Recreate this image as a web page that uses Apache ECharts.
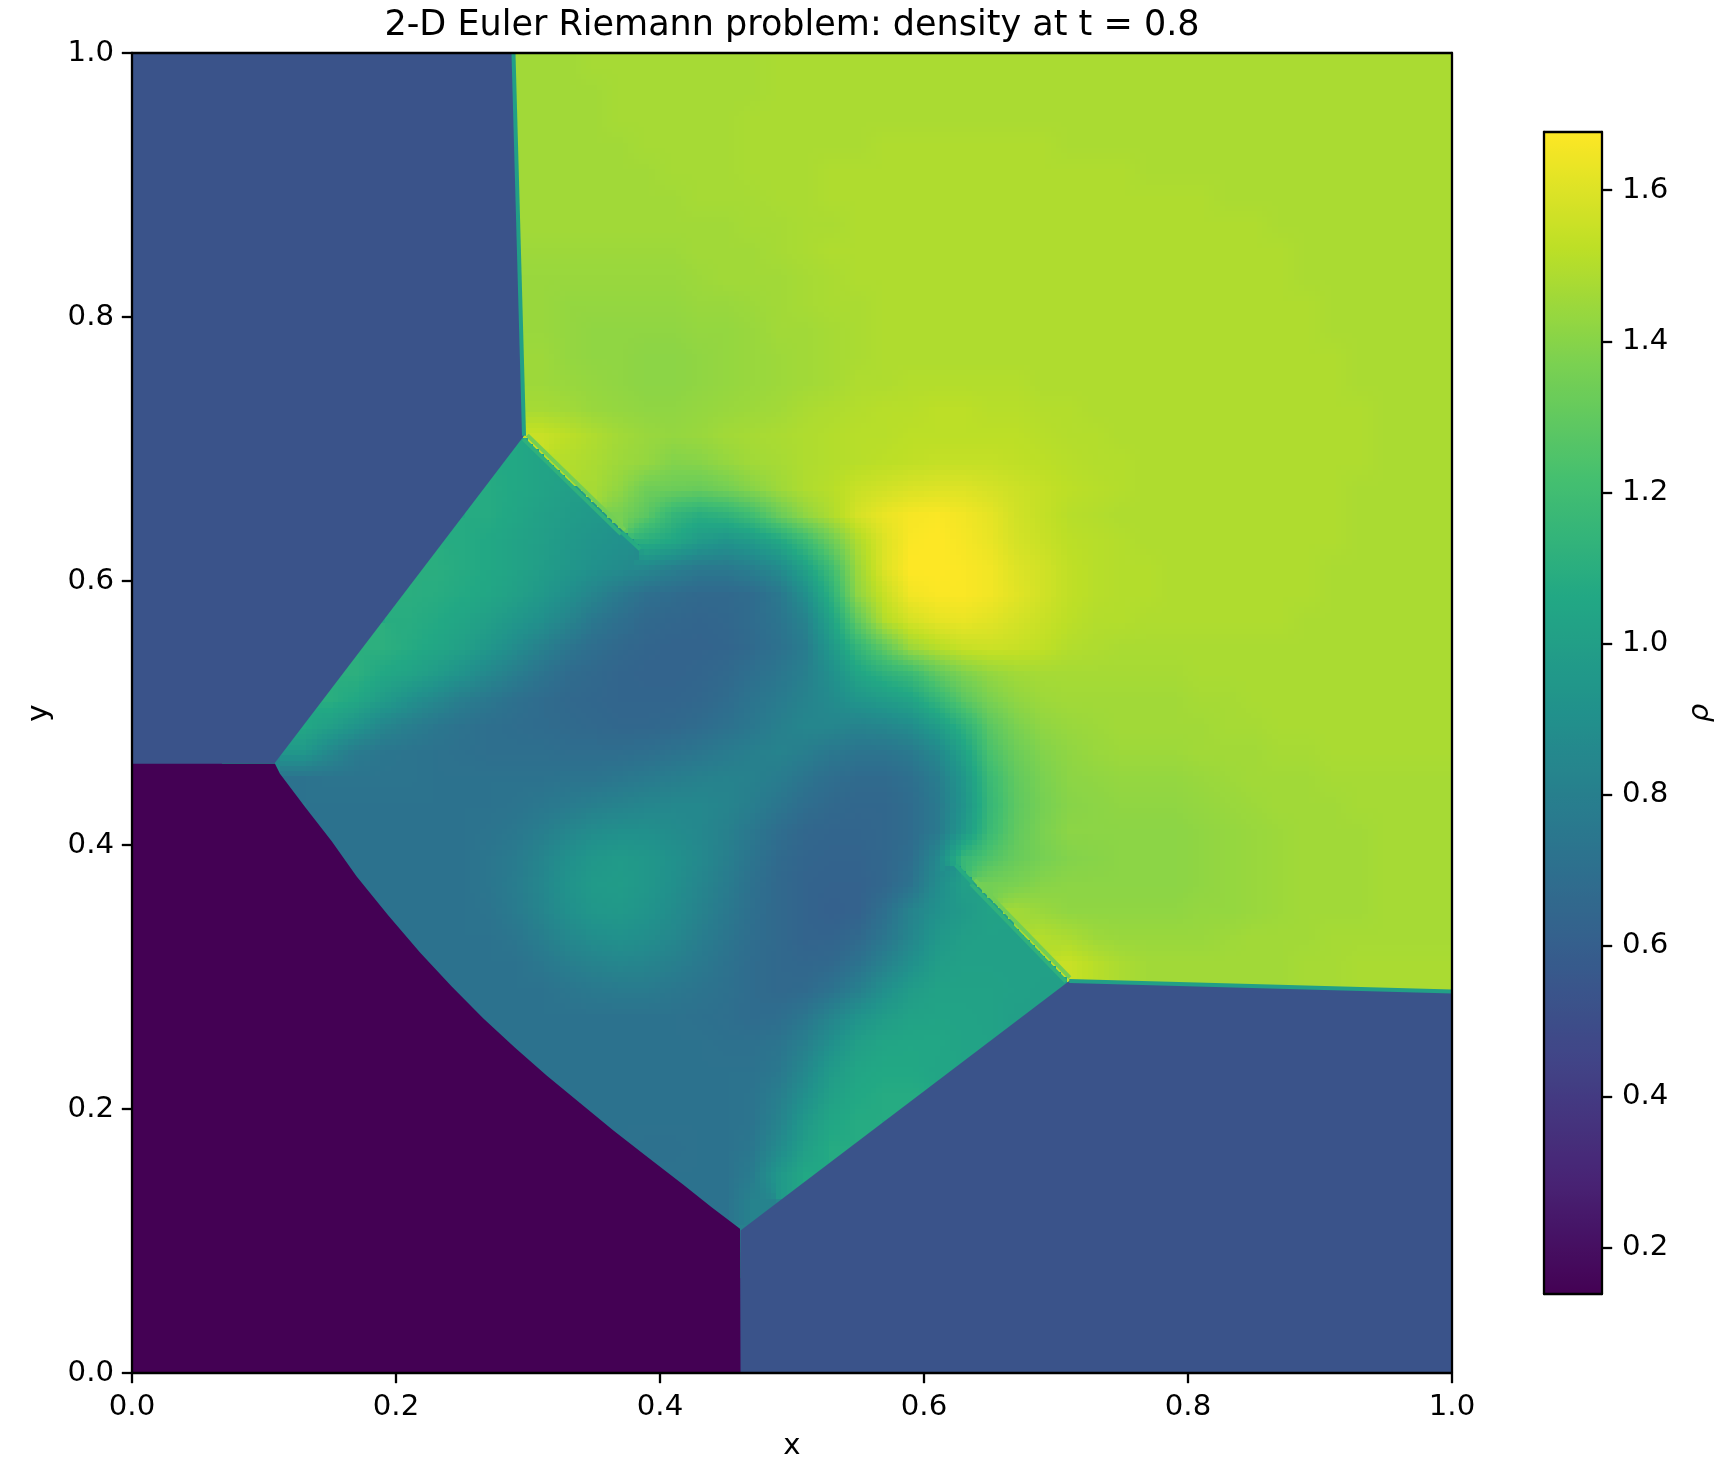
<!DOCTYPE html>
<html>
<head>
<meta charset="utf-8">
<script src="https://cdn.jsdelivr.net/npm/echarts@6/dist/echarts.min.js"></script>
<style>html,body{margin:0;padding:0;background:#fff}#c{width:1721px;height:1470px}</style>
</head>
<body>
<div id="c"></div>
<script>
const titleText = '2-D Euler Riemann problem: density at t = 0.8';
const axisTicks = [0, 0.2, 0.4, 0.6, 0.8, 1.0];
const colorbarTicks = [0.2, 0.4, 0.6, 0.8, 1.0, 1.2, 1.4, 1.6];
const rhoMin = 0.139, rhoMax = 1.677;
const viridis = ['#440154','#482475','#414487','#355f8d','#2a788e','#21918c','#22a884','#44bf70','#7ad151','#bddf26','#fde725'];
const cellCount = 50;
// Uniform states with sharp shock fronts: [x, y] outlines and their density.
const upperLeftState = [[0,1],[0.289,1],[0.297,0.71],[0.108,0.462],[0,0.462]];
const lowerRightState = [[1,0],[1,0.289],[0.71,0.297],[0.461,0.108],[0.461,0]];
const lowerLeftState = [[0,0],[0.461,0],[0.4606,0.1092],[0.4391,0.1256],[0.4177,0.1426],[0.3912,0.163],[0.3647,0.1837],[0.3394,0.2045],[0.3141,0.2254],[0.2902,0.2464],[0.2662,0.2686],[0.2422,0.2928],[0.2182,0.3186],[0.1942,0.3466],[0.1702,0.3762],[0.1513,0.4029],[0.1311,0.4287],[0.1121,0.4539],[0.1083,0.4615],[0,0.4615]];
const stateOutlines = [upperLeftState, lowerRightState, lowerLeftState];
const stateRho = [0.53, 0.53, 0.14];
// Shock fronts between the teal wedges and the green region.
const frontA = [[0.29,0.717],[0.386,0.623]];
const frontB = [[0.623,0.386],[0.717,0.29]];
// Thin contact lines drawn over the sharp edges, and the density their colour stands for.
const contactLines = [
  [[0.289,1],[0.297,0.71]], [[0.71,0.297],[1,0.289]],
  [[0.2965,0.7075],[0.3705,0.6355]], [[0.2995,0.7105],[0.3735,0.6385]],
  [[0.6355,0.3705],[0.7075,0.2965]], [[0.6385,0.3735],[0.7105,0.2995]],
  [[0.371,0.637],[0.385,0.624]], [[0.624,0.385],[0.637,0.371]]
];
const contactRho = [1.0, 1.0, 1.12, 1.35, 1.12, 1.35, 1.08, 1.08];
// Density x 100 in cells; first row is y = 0.99, last is y = 0.01; columns x = 0.01 ... 0.99
const rhoRows = [
[53,53,53,53,53, 53,53,53,53,53, 53,53,53,53,146, 146,146,147,147,147, 147,147,147,147,148, 148,148,148,148,148, 148,148,148,148,148, 148,148,148,148,148, 148,148,148,148,148, 148,148,148,148,148],
[53,53,53,53,53, 53,53,53,53,53, 53,53,53,53,146, 146,146,146,147,147, 147,147,147,147,148, 148,148,148,148,148, 148,148,148,148,148, 148,148,148,148,148, 148,148,148,148,148, 148,148,148,148,148],
[53,53,53,53,53, 53,53,53,53,53, 53,53,53,53,92, 146,146,146,147,147, 147,147,147,148,148, 148,148,148,148,148, 148,148,148,148,148, 148,148,148,148,148, 148,148,148,148,148, 148,148,148,148,148],
[53,53,53,53,53, 53,53,53,53,53, 53,53,53,53,88, 146,146,146,146,147, 147,147,147,148,148, 148,148,148,149,149, 149,149,149,149,149, 148,148,148,148,148, 148,148,148,148,148, 148,148,148,148,148],
[53,53,53,53,53, 53,53,53,53,53, 53,53,53,53,85, 146,146,146,146,146, 147,147,147,148,148, 148,149,149,149,149, 149,149,149,149,149, 149,149,149,148,148, 148,148,148,148,148, 148,148,148,148,148],
[53,53,53,53,53, 53,53,53,53,53, 53,53,53,53,82, 146,146,146,146,146, 146,147,147,147,148, 148,149,149,149,149, 149,149,149,149,149, 149,149,149,149,149, 149,148,148,148,148, 148,148,148,148,148],
[53,53,53,53,53, 53,53,53,53,53, 53,53,53,53,80, 146,146,146,146,146, 146,146,146,147,147, 148,148,149,149,149, 149,149,149,149,149, 149,149,149,149,149, 149,149,149,148,148, 148,148,148,148,148],
[53,53,53,53,53, 53,53,53,53,53, 53,53,53,53,77, 145,145,145,145,145, 145,146,146,146,147, 148,149,149,149,149, 149,149,149,149,149, 149,149,149,149,149, 149,149,149,149,148, 148,148,148,148,148],
[53,53,53,53,53, 53,53,53,53,53, 53,53,53,53,74, 144,144,144,144,144, 144,145,146,146,146, 147,148,149,149,149, 149,149,149,149,149, 149,149,149,149,149, 149,149,149,149,148, 148,148,148,148,148],
[53,53,53,53,53, 53,53,53,53,53, 53,53,53,53,72, 144,143,143,143,143, 143,144,144,145,146, 147,148,148,149,149, 149,149,149,149,149, 149,149,149,149,149, 149,149,149,149,149, 148,148,148,148,148],
[53,53,53,53,53, 53,53,53,53,53, 53,53,53,53,70, 144,143,142,142,142, 142,143,143,144,146, 146,147,148,149,149, 149,149,149,149,149, 149,149,149,149,149, 149,149,149,149,149, 148,148,148,148,148],
[53,53,53,53,53, 53,53,53,53,53, 53,53,53,53,68, 145,143,142,142,141, 141,142,143,144,145, 146,147,148,149,149, 149,149,149,149,149, 149,149,149,149,149, 149,149,149,149,149, 149,148,148,148,148],
[53,53,53,53,53, 53,53,53,53,53, 53,53,53,53,67, 145,144,143,142,141, 141,142,143,144,145, 146,147,149,149,150, 150,150,150,150,149, 149,149,149,149,149, 149,149,149,149,149, 149,148,148,148,148],
[53,53,53,53,53, 53,53,53,53,53, 53,53,53,53,66, 147,146,144,143,142, 142,143,144,145,146, 148,149,150,151,151, 152,152,151,151,150, 150,149,149,149,149, 149,149,149,149,149, 149,149,148,148,148],
[53,53,53,53,53, 53,53,53,53,53, 53,53,53,53,75, 155,152,149,146,144, 143,144,146,147,148, 149,150,151,151,152, 152,152,152,152,151, 150,150,149,149,149, 149,149,149,149,149, 149,149,148,148,148],
[53,53,53,53,53, 53,53,53,53,53, 53,53,53,56,106, 103,150,148,145,143, 139,140,143,146,147, 149,150,151,152,153, 154,154,154,153,152, 151,150,150,149,149, 149,149,149,149,149, 149,149,148,148,148],
[53,53,53,53,53, 53,53,53,53,53, 53,53,53,108,106, 103,100,147,142,134, 133,132,135,140,145, 149,151,155,157,159, 160,160,158,156,154, 152,151,150,149,149, 149,149,149,149,149, 149,148,148,148,148],
[53,53,53,53,53, 53,53,53,53,53, 53,53,80,108,105, 101,98,96,136,128, 115,110,113,120,132, 142,149,158,163,166, 167,165,162,157,154, 151,150,149,149,149, 149,149,149,149,149, 149,148,148,148,148],
[53,53,53,53,53, 53,53,53,53,53, 53,66,108,106,103, 100,96,93,91,110, 105,97,93,97,105, 118,133,149,160,167, 168,166,163,158,155, 152,151,150,149,149, 149,149,149,149,149, 149,148,148,148,148],
[53,53,53,53,53, 53,53,53,53,53, 53,110,108,106,103, 99,95,91,88,85, 80,76,76,80,87, 102,120,145,160,168, 168,167,165,160,157, 153,151,150,150,149, 149,149,149,149,149, 148,148,148,148,148],
[53,53,53,53,53, 53,53,53,53,53, 110,109,107,105,101, 96,90,83,76,70, 68,66,66,68,75, 90,112,142,155,165, 167,167,165,161,157, 153,151,150,150,149, 149,149,149,149,149, 148,148,148,148,148],
[53,53,53,53,53, 53,53,53,53,110, 109,107,104,100,95, 90,83,75,70,66, 65,64,65,68,73, 82,103,130,150,158, 162,163,161,158,155, 152,150,150,149,149, 149,149,149,149,148, 148,148,148,148,148],
[53,53,53,53,53, 53,53,53,78,111, 108,105,101,95,88, 81,74,69,66,64, 63,63,64,67,71, 78,96,115,130,145, 151,155,156,155,153, 150,149,148,148,148, 148,148,148,148,148, 148,148,148,148,148],
[53,53,53,53,53, 53,53,53,111,106, 103,98,92,85,79, 73,68,66,64,63, 63,64,66,70,74, 80,90,104,112,118, 130,138,143,146,147, 147,147,147,147,147, 148,148,148,148,148, 148,148,148,148,148],
[53,53,53,53,53, 53,53,110,106,98, 91,85,79,75,71, 68,66,65,64,64, 64,65,68,73,77, 82,87,94,98,103, 115,128,137,142,145, 146,146,146,146,146, 147,147,148,148,148, 148,148,148,148,148],
[53,53,53,53,53, 53,106,100,93,84, 79,75,72,70,69, 68,67,66,65,65, 66,68,71,75,80, 84,84,82,84,88, 98,112,128,137,142, 144,145,146,146,146, 146,147,147,148,148, 148,148,148,148,148],
[53,53,53,53,53, 70,95,85,77,74, 73,72,71,70,70, 70,69,69,69,70, 72,74,77,80,82, 79,75,73,73,76, 85,102,123,133,139, 142,144,145,145,145, 146,146,146,147,147, 148,148,148,148,148],
[14,14,14,14,14, 30,72,73,73,73, 73,72,72,72,72, 72,73,73,75,77, 79,81,82,81,78, 73,69,67,67,70, 78,95,118,130,137, 141,142,143,143,143, 144,145,146,146,146, 147,147,147,147,147],
[14,14,14,14,14, 14,72,72,72,72, 72,72,72,72,73, 75,77,80,82,84, 85,85,83,79,74, 69,66,65,65,68, 76,93,116,129,136, 140,141,142,142,142, 143,144,145,146,146, 146,147,147,147,147],
[14,14,14,14,14, 14,14,72,72,72, 72,72,72,73,75, 79,84,88,90,90, 88,85,81,75,69, 65,64,64,65,68, 76,96,118,130,137, 141,141,141,141,141, 142,143,144,145,146, 146,146,147,147,147],
[14,14,14,14,14, 14,14,72,72,72, 72,72,72,74,77, 83,90,95,97,95, 91,86,80,73,67, 64,63,63,65,69, 85,116,125,132,136, 139,140,141,141,141, 142,143,144,145,146, 146,146,147,147,147],
[14,14,14,14,14, 14,14,14,72,72, 72,72,72,74,78, 84,92,97,98,95, 90,84,78,71,66, 63,62,62,65,72, 88,100,135,137,140, 141,141,141,141,141, 142,143,144,145,146, 146,146,147,147,147],
[14,14,14,14,14, 14,14,14,14,72, 72,72,72,73,77, 83,90,95,96,93, 88,82,76,70,66, 63,61,62,70,82, 91,97,102,146,144, 142,142,142,142,142, 143,143,144,145,146, 146,146,147,147,147],
[14,14,14,14,14, 14,14,14,14,14, 72,72,72,72,74, 79,85,89,91,89, 85,79,74,69,66, 63,63,66,74,84, 95,100,101,101,150, 148,145,144,144,144, 144,145,146,146,146, 147,147,147,147,147],
[14,14,14,14,14, 14,14,14,14,14, 14,72,72,72,72, 75,79,82,84,83, 80,76,72,68,66, 65,66,72,81,90, 99,101,101,101,101, 155,151,148,146,146, 146,146,146,146,147, 147,148,148,148,148],
[14,14,14,14,14, 14,14,14,14,14, 14,14,72,72,72, 72,74,76,77,77, 75,73,71,68,66, 67,72,80,90,98, 102,102,102,101,100, 150,148,147,147,147, 147,147,147,147,147, 147,147,147,148,148],
[14,14,14,14,14, 14,14,14,14,14, 14,14,14,72,72, 72,72,72,72,72, 72,71,70,68,69, 74,83,92,98,102, 103,103,102,100,53, 53,53,53,53,53, 53,53,53,53,53, 53,53,53,53,53],
[14,14,14,14,14, 14,14,14,14,14, 14,14,14,20,72, 72,72,72,72,72, 72,72,71,71,73, 80,90,100,104,105, 105,103,85,53,53, 53,53,53,53,53, 53,53,53,53,53, 53,53,53,53,53],
[14,14,14,14,14, 14,14,14,14,14, 14,14,14,14,25, 72,72,72,72,72, 72,72,72,72,75, 85,97,104,106,106, 104,60,53,53,53, 53,53,53,53,53, 53,53,53,53,53, 53,53,53,53,53],
[14,14,14,14,14, 14,14,14,14,14, 14,14,14,14,14, 14,72,72,72,72, 72,72,72,73,79, 90,101,106,108,108, 53,53,53,53,53, 53,53,53,53,53, 53,53,53,53,53, 53,53,53,53,53],
[14,14,14,14,14, 14,14,14,14,14, 14,14,14,14,14, 14,14,72,72,72, 72,72,72,73,82, 96,105,108,110,53, 53,53,53,53,53, 53,53,53,53,53, 53,53,53,53,53, 53,53,53,53,53],
[14,14,14,14,14, 14,14,14,14,14, 14,14,14,14,14, 14,14,14,72,71, 71,72,72,75,87, 100,108,70,53,53, 53,53,53,53,53, 53,53,53,53,53, 53,53,53,53,53, 53,53,53,53,53],
[14,14,14,14,14, 14,14,14,14,14, 14,14,14,14,14, 14,14,14,14,16, 72,72,72,78,95, 106,55,53,53,53, 53,53,53,53,53, 53,53,53,53,53, 53,53,53,53,53, 53,53,53,53,53],
[14,14,14,14,14, 14,14,14,14,14, 14,14,14,14,14, 14,14,14,14,14, 14,72,72,82,90, 53,53,53,53,53, 53,53,53,53,53, 53,53,53,53,53, 53,53,53,53,53, 53,53,53,53,53],
[14,14,14,14,14, 14,14,14,14,14, 14,14,14,14,14, 14,14,14,14,14, 14,14,14,55,53, 53,53,53,53,53, 53,53,53,53,53, 53,53,53,53,53, 53,53,53,53,53, 53,53,53,53,53],
[14,14,14,14,14, 14,14,14,14,14, 14,14,14,14,14, 14,14,14,14,14, 14,14,14,50,53, 53,53,53,53,53, 53,53,53,53,53, 53,53,53,53,53, 53,53,53,53,53, 53,53,53,53,53],
[14,14,14,14,14, 14,14,14,14,14, 14,14,14,14,14, 14,14,14,14,14, 14,14,14,50,53, 53,53,53,53,53, 53,53,53,53,53, 53,53,53,53,53, 53,53,53,53,53, 53,53,53,53,53],
[14,14,14,14,14, 14,14,14,14,14, 14,14,14,14,14, 14,14,14,14,14, 14,14,14,50,53, 53,53,53,53,53, 53,53,53,53,53, 53,53,53,53,53, 53,53,53,53,53, 53,53,53,53,53],
[14,14,14,14,14, 14,14,14,14,14, 14,14,14,14,14, 14,14,14,14,14, 14,14,14,50,53, 53,53,53,53,53, 53,53,53,53,53, 53,53,53,53,53, 53,53,53,53,53, 53,53,53,53,53],
[14,14,14,14,14, 14,14,14,14,14, 14,14,14,14,14, 14,14,14,14,14, 14,14,14,50,53, 53,53,53,53,53, 53,53,53,53,53, 53,53,53,53,53, 53,53,53,53,53, 53,53,53,53,53]
];

const step = 1 / cellCount;
const SUB = 5; // each cell is painted with smooth shading, as the reference image is

function insidePoly(p, poly) {
  let hit = false;
  for (let i = 0, j = poly.length - 1; i < poly.length; j = i++) {
    const a = poly[i], b = poly[j];
    if ((a[1] > p[1]) !== (b[1] > p[1]) && p[0] < (b[0] - a[0]) * (p[1] - a[1]) / (b[1] - a[1]) + a[0]) hit = !hit;
  }
  return hit;
}
function inAnyState(p) { return stateOutlines.some(function (o) { return insidePoly(p, o); }); }
function side(a, b, p) { return (b[0]-a[0])*(p[1]-a[1]) - (b[1]-a[1])*(p[0]-a[0]); }
function crosses(p, q, s) {
  return side(s[0], s[1], p) * side(s[0], s[1], q) < 0 && side(p, q, s[0]) * side(p, q, s[1]) < 0;
}
function blocked(p, q) { return crosses(p, q, frontA) || crosses(p, q, frontB); }

const cells = [];
const usable = rhoRows.map(function (row, r) {
  return row.map(function (v, c) {
    const x = (c + 0.5) * step, y = 1 - (r + 0.5) * step;
    cells.push([x, y, v / 100]);
    return !inAnyState([x, y]);
  });
});
function hidden(x, y) {
  const h = step / 2;
  return stateOutlines.some(function (o) {
    return insidePoly([x - h, y - h], o) && insidePoly([x + h, y - h], o) &&
           insidePoly([x - h, y + h], o) && insidePoly([x + h, y + h], o);
  });
}
function clampIdx(i) { return Math.max(0, Math.min(cellCount - 1, i)); }
function centre(r, c) { return [(c + 0.5) * step, 1 - (r + 0.5) * step]; }
function fieldAt(x, y) {
  const u = x / step - 0.5, v = (1 - y) / step - 0.5;
  const c0 = Math.floor(u), r0 = Math.floor(v), fu = u - c0, fv = v - r0;
  let sum = 0, w = 0;
  [[0,0,(1-fu)*(1-fv)],[1,0,fu*(1-fv)],[0,1,(1-fu)*fv],[1,1,fu*fv]].forEach(function (n) {
    const r = clampIdx(r0 + n[1]), c = clampIdx(c0 + n[0]);
    if (usable[r][c] && !blocked([x, y], centre(r, c))) { sum += rhoRows[r][c] * n[2]; w += n[2]; }
  });
  if (w > 1e-3) return sum / w / 100;
  sum = 0; w = 0;
  for (let dr = -2; dr <= 3; dr++) for (let dc = -2; dc <= 3; dc++) {
    const r = clampIdx(r0 + dr), c = clampIdx(c0 + dc);
    if (usable[r][c] && !blocked([x, y], centre(r, c))) { sum += rhoRows[r][c]; w += 1; }
  }
  return w ? sum / w / 100 : 0.53;
}
const stops = viridis.map(function (h) {
  return [parseInt(h.substr(1,2),16), parseInt(h.substr(3,2),16), parseInt(h.substr(5,2),16)];
});
function colorOf(v) {
  const t = Math.max(0, Math.min(0.99999, (v - rhoMin) / (rhoMax - rhoMin))) * (stops.length - 1);
  const i = Math.floor(t), f = t - i, a = stops[i], b = stops[i + 1];
  return 'rgb(' + Math.round(a[0] + (b[0]-a[0])*f) + ',' + Math.round(a[1] + (b[1]-a[1])*f) + ',' + Math.round(a[2] + (b[2]-a[2])*f) + ')';
}

const FONT = 'DejaVu Sans';
const TICK = 29.2;
const LW = 2.3;
const line = { lineStyle: { color: '#000', width: LW } };
function frameAxis(gridIndex, position, min, max) {
  return { type: 'value', gridIndex: gridIndex, position: position, min: min, max: max, z: 6,
    axisLine: Object.assign({ show: true, onZero: false }, line),
    axisTick: { show: false }, axisLabel: { show: false }, splitLine: { show: false } };
}
function tickAxis(position, name, gap, rotate, margin) {
  return { type: 'value', gridIndex: 0, position: position, min: 0, max: 1, interval: 0.2, z: 6,
    name: name, nameLocation: 'middle', nameGap: gap, nameRotate: rotate,
    nameTextStyle: { color: '#000', fontFamily: FONT, fontSize: TICK },
    axisLine: Object.assign({ show: true, onZero: false }, line),
    axisTick: Object.assign({ show: true, length: 10.2, customValues: axisTicks }, line),
    axisLabel: { show: true, margin: margin, color: '#000', fontFamily: FONT, fontSize: TICK,
      customValues: axisTicks, formatter: function (v) { return v.toFixed(1); } },
    splitLine: { show: false } };
}

const chart = echarts.init(document.getElementById('c'), null, { renderer: 'canvas' });
chart.setOption({
  animation: false,
  backgroundColor: '#fff',
  title: { text: titleText, left: 787, top: 3, textAlign: 'center',
    textStyle: { color: '#000', fontFamily: FONT, fontSize: 35, fontWeight: 'normal' } },
  grid: [
    { left: 132, top: 53, width: 1320, height: 1320 },
    { left: 1544, top: 132, width: 58, height: 1162 }
  ],
  xAxis: [
    tickAxis('bottom', 'x', 59, 0, 20),
    frameAxis(0, 'top', 0, 1),
    frameAxis(1, 'bottom', 0, 1),
    frameAxis(1, 'top', 0, 1)
  ],
  yAxis: [
    tickAxis('left', 'y', 78, 90, 18),
    frameAxis(0, 'right', 0, 1),
    frameAxis(1, 'left', rhoMin, rhoMax),
    {
      type: 'value', gridIndex: 1, position: 'right', min: rhoMin, max: rhoMax, z: 6,
      name: 'ρ', nameLocation: 'middle', nameGap: 84, nameRotate: 90,
      nameTextStyle: { color: '#000', fontFamily: FONT, fontSize: TICK, fontStyle: 'italic' },
      axisLine: Object.assign({ show: true, onZero: false }, line),
      axisTick: Object.assign({ show: true, length: 10.2, customValues: colorbarTicks }, line),
      axisLabel: { show: true, margin: 20, color: '#000', fontFamily: FONT, fontSize: TICK,
        customValues: colorbarTicks, formatter: function (v) { return v.toFixed(1); } },
      splitLine: { show: false }
    }
  ],
  visualMap: {
    type: 'continuous', seriesIndex: [0, 1, 2], dimension: 2, min: rhoMin, max: rhoMax,
    inRange: { color: viridis }, left: 1544, top: 132, itemWidth: 58, itemHeight: 1162,
    padding: 0, calculable: false, realtime: false, hoverLink: false, text: null, z: 1,
    textStyle: { color: 'transparent', fontSize: 1 }, showLabel: false
  },
  series: [{
    type: 'custom', coordinateSystem: 'cartesian2d', xAxisIndex: 0, yAxisIndex: 0, z: 2,
    encode: { x: 0, y: 1 }, data: cells, silent: true, progressive: 0,
    renderItem: function (params, api) {
      const x = api.value(0), y = api.value(1);
      if (hidden(x, y)) return null;
      const kids = [], d = step / SUB;
      const left = x - step / 2, top = y + step / 2;
      for (let j = 0; j < SUB; j++) for (let i = 0; i < SUB; i++) {
        const a = api.coord([left + i * d, top - j * d]);
        const b = api.coord([left + (i + 1) * d, top - (j + 1) * d]);
        const x0 = Math.round(a[0]), y0 = Math.round(a[1]);
        kids.push({ type: 'rect',
          shape: { x: x0, y: y0, width: Math.round(b[0]) - x0, height: Math.round(b[1]) - y0 },
          style: { fill: colorOf(fieldAt(left + (i + 0.5) * d, top - (j + 0.5) * d)) } });
      }
      return { type: 'group', children: kids };
    }
  }, {
    type: 'custom', coordinateSystem: 'cartesian2d', xAxisIndex: 0, yAxisIndex: 0, z: 3,
    encode: { x: 0, y: 1 }, silent: true,
    data: stateOutlines.map(function (o, i) { return [o[0][0], o[0][1], stateRho[i], i]; }),
    renderItem: function (params, api) {
      const pts = stateOutlines[api.value(3)].map(function (p) { return api.coord(p); });
      return { type: 'polygon', shape: { points: pts }, style: { fill: api.visual('color') } };
    }
  }, {
    type: 'custom', coordinateSystem: 'cartesian2d', xAxisIndex: 0, yAxisIndex: 0, z: 4,
    encode: { x: 0, y: 1 }, silent: true,
    data: contactLines.map(function (o, i) { return [o[0][0], o[0][1], contactRho[i], i]; }),
    renderItem: function (params, api) {
      const pts = contactLines[api.value(3)].map(function (p) { return api.coord(p); });
      return { type: 'polyline', shape: { points: pts }, style: { fill: 'none', stroke: api.visual('color'), lineWidth: 4 } };
    }
  }]
});
</script>
</body>
</html>
